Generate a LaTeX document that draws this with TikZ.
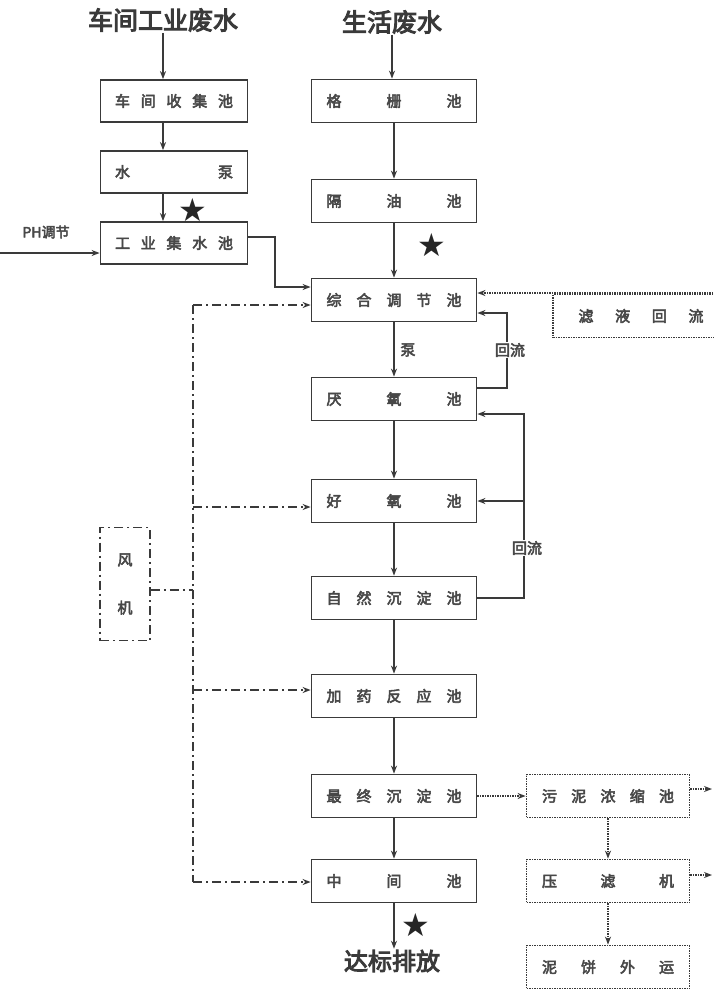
\documentclass[tikz,border=0pt]{standalone}
\usepackage{fontspec}
\setmainfont{Noto Sans CJK SC}
\newfontfamily\boxfont[FakeBold=3.5]{Noto Sans CJK SC}
\newfontfamily\titlefont[FakeBold=4]{Noto Sans CJK SC}
\newfontfamily\starfont{DejaVu Sans}
\usetikzlibrary{arrows.meta,positioning}
\definecolor{ink}{HTML}{3A3A3A}
\definecolor{boxtext}{HTML}{484848}
\begin{document}
\begin{tikzpicture}[
    x=1pt,y=-1pt,
    >={Stealth[length=8pt,width=6pt]},
    box/.style={draw=ink,line width=1.8pt,fill=white,minimum width=165pt,minimum height=43pt,inner sep=0pt,text=boxtext,font=\boxfont\fontsize{15}{18}\selectfont},
    lbox/.style={box,minimum width=147pt,minimum height=42pt},
    sbox/.style={box,dash pattern=on 1.5pt off 1pt,minimum width=163pt},
    title/.style={font=\titlefont\fontsize{25}{30}\selectfont,text=ink,inner sep=1pt},
    lbl/.style={font=\boxfont\fontsize{15}{18}\selectfont,text=boxtext,inner sep=1pt},
    star/.style={font=\starfont\fontsize{32}{32}\selectfont,text=black!85,inner sep=0pt},
    arr/.style={->,draw=ink,line width=1.8pt},
    air/.style={draw=ink,line width=1.8pt,dash pattern=on 9pt off 4pt on 2pt off 4pt},
    sludge/.style={->,draw=ink,line width=1.8pt,dash pattern=on 1.5pt off 1pt}
]
\useasboundingbox (0,0) rectangle (713,989);
\fill[white] (0,0) rectangle (713,989);

\node[title] (t1) at (163,20) {车间工业废水};
\node[title] (t2) at (392,22) {生活废水};
\node[lbox] (ws) at (174,101) {\makebox[118pt]{车\hfill 间\hfill 收\hfill 集\hfill 池}};
\node[lbox] (pump) at (174,172) {\makebox[118pt]{水\hfill 泵}};
\node[lbox] (ind) at (174,243) {\makebox[118pt]{工\hfill 业\hfill 集\hfill 水\hfill 池}};
\node[lbl,font=\boxfont\fontsize{14}{16}\selectfont] (ph) at (46,232) {PH调节};
\node[star] (s1) at (193,210) {★};

\node[box] (grid) at (394,101) {\makebox[135pt]{格\hfill 栅\hfill 池}};
\node[box] (oil) at (394,201) {\makebox[135pt]{隔\hfill 油\hfill 池}};
\node[box] (eq) at (394,300) {\makebox[135pt]{综\hfill 合\hfill 调\hfill 节\hfill 池}};
\node[box] (ana) at (394,399) {\makebox[135pt]{厌\hfill 氧\hfill 池}};
\node[box] (aer) at (394,501) {\makebox[135pt]{好\hfill 氧\hfill 池}};
\node[box] (sed) at (394,598) {\makebox[135pt]{自\hfill 然\hfill 沉\hfill 淀\hfill 池}};
\node[box] (dos) at (394,696) {\makebox[135pt]{加\hfill 药\hfill 反\hfill 应\hfill 池}};
\node[box] (fin) at (394,796) {\makebox[135pt]{最\hfill 终\hfill 沉\hfill 淀\hfill 池}};
\node[box] (mid) at (394,881) {\makebox[135pt]{中\hfill 间\hfill 池}};
\node[title,font=\titlefont\fontsize{24}{28}\selectfont] (out) at (392,961) {达标排放};
\node[star] (s2) at (432,245) {★};
\node[star] (s3) at (416,925) {★};
\node[lbl] (pl) at (408,350) {泵};

\node[box,dash pattern=on 1.5pt off 1pt,minimum width=176pt] (filt) at (641,316) {\makebox[125pt]{滤\hfill 液\hfill 回\hfill 流}};
\node[sbox] (thick) at (608,796) {\makebox[132pt]{污\hfill 泥\hfill 浓\hfill 缩\hfill 池}};
\node[sbox] (press) at (608,881) {\makebox[132pt]{压\hfill 滤\hfill 机}};
\node[sbox] (cake) at (608,967) {\makebox[132pt]{泥\hfill 饼\hfill 外\hfill 运}};

\node[box,air,minimum width=50pt,minimum height=113pt,align=center] (fan) at (125,584) {风\\[30pt]机};

\draw[arr] (t1) -- (t1 |- ws.north);
\draw[arr] (t1 |- ws.south) -- (t1 |- pump.north);
\draw[arr] (t1 |- pump.south) -- (t1 |- ind.north);
\coordinate (phin) at (0,253);
\draw[arr] (phin) -- (phin -| ind.west);
\coordinate (j1) at (275,287);
\draw[arr] ([yshift=6pt]ind.east) -| (j1) -- (j1 -| eq.west);

\draw[arr] (t2) -- (t2 |- grid.north);
\foreach \a/\b in {grid/oil,oil/eq,eq/ana,ana/aer,aer/sed,sed/dos,dos/fin,fin/mid}
    \draw[arr] (\a) -- (\b);
\draw[arr] (mid) -- (mid |- out.north);

\coordinate (r1) at (507,350);
\draw[arr] ([yshift=11pt]ana.east) -| (r1) |- ([yshift=-13pt]eq.east);
\node[lbl,fill=white] (hl1) at (510,350) {回流};
\coordinate (r2) at (524,501);
\draw[arr] (sed.east) -| (r2) |- ([yshift=-15pt]ana.east);
\draw[arr] (r2) -- (aer.east);
\node[lbl,fill=white] (hl2) at (527,548) {回流};

\coordinate (fr) at (713,293);
\draw[sludge] (fr) -- (fr -| eq.east);
\draw[sludge] (fin) -- (thick);
\draw[sludge] (thick) -- (press);
\draw[sludge] (press) -- (cake);
\coordinate (e1) at (712,789);
\draw[sludge] ([yshift=7pt]thick.east) -- (e1);
\coordinate (e2) at (712,875);
\draw[sludge] ([yshift=6pt]press.east) -- (e2);

\coordinate (a0) at (193,305);
\coordinate (a1) at (193,507);
\coordinate (a2) at (193,690);
\coordinate (a3) at (193,882);
\draw[air] (a0) -- (a3);
\draw[air] ([yshift=-6pt]fan.east) -- ([yshift=-6pt]fan.east -| a0);
\foreach \c/\n in {a0/eq,a1/aer,a2/dos,a3/mid}
    \draw[air,->] (\c) -- (\c -| \n.west);
\end{tikzpicture}
\end{document}
